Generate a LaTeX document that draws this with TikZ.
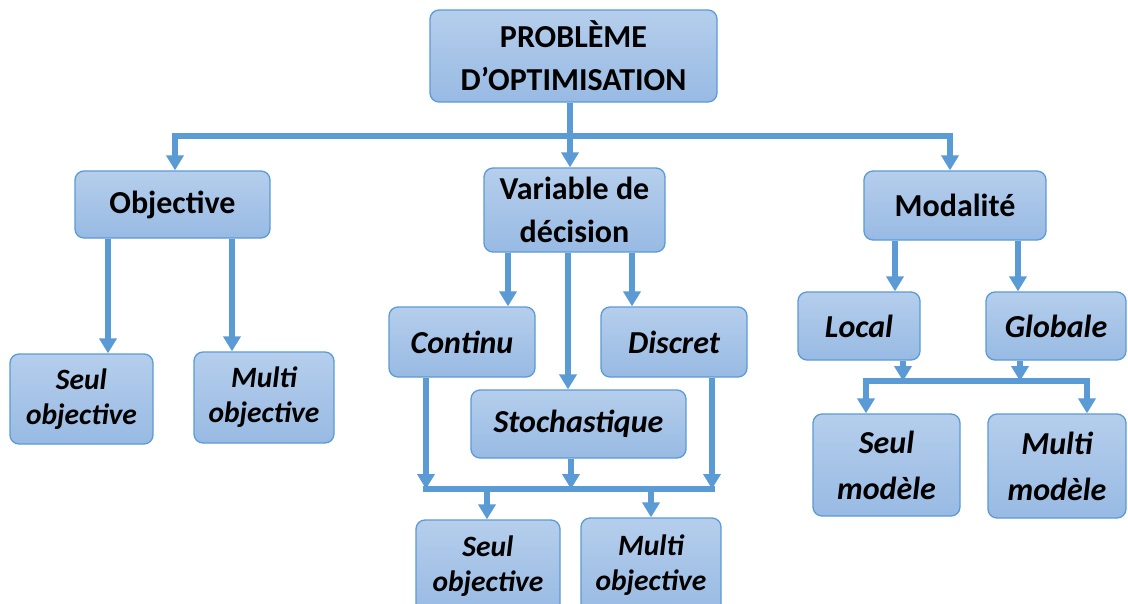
\documentclass[tikz,border=0pt]{standalone}
\usepackage{fontspec}
\setmainfont{Carlito}
\usetikzlibrary{arrows.meta}
\definecolor{acol}{HTML}{5B9BD5}
\definecolor{btop}{HTML}{B5CEEC}
\definecolor{bbot}{HTML}{98BAE3}
\tikzset{
  box/.style={draw=acol, line width=1.3pt, rounded corners=9pt, top color=btop, bottom color=bbot,
    align=center, inner sep=0pt, font=\bfseries\fontsize{32}{43}\selectfont},
  ibox/.style={box, font=\bfseries\itshape\fontsize{32}{35}\selectfont},
  obox/.style={box, font=\bfseries\itshape\fontsize{29.5}{35}\selectfont},
  mbox/.style={box, font=\bfseries\itshape\fontsize{32}{46}\selectfont},
  arr/.style={draw=acol, line width=5.5pt, -{Triangle[width=17pt,length=15pt]}},
  bar/.style={draw=acol, line width=5.5pt, line cap=rect},
}
\begin{document}
\begin{tikzpicture}[x=1pt,y=-1pt]
\useasboundingbox (0,0) rectangle (1128,603);
\fill[white] (0,0) rectangle (1128,603);
% nodes
\node[box, minimum width=287, minimum height=92] (top) at (573.5,56) {PROBLÈME\\D’OPTIMISATION};
\node[box, minimum width=195, minimum height=67] (obj) at (172.5,204.5) {Objective};
\node[box, minimum width=181, minimum height=84] (var) at (574.5,210) {Variable de\\décision};
\node[box, minimum width=182, minimum height=69] (mod) at (955,205.5) {Modalité};
\node[obox, minimum width=143, minimum height=90] (sob1) at (81.5,399) {Seul\\objective};
\node[obox, minimum width=140, minimum height=91] (mob1) at (264,397.5) {Multi\\objective};
\node[ibox, minimum width=146, minimum height=70] (cont) at (462,342) {Continu};
\node[ibox, minimum width=146, minimum height=70] (disc) at (674,342) {Discret};
\node[ibox, minimum width=215, minimum height=68] (stoch) at (578.5,424) {Stochastique};
\node[obox, minimum width=144, minimum height=93, yshift=-3pt] (sob2) at (488,563.5) {Seul\\objective};
\node[obox, minimum width=140, minimum height=95, yshift=-3pt] (mob2) at (651,562.5) {Multi\\objective};
\node[ibox, minimum width=122, minimum height=68] (loc) at (859,326) {Local};
\node[ibox, minimum width=140, minimum height=68] (glob) at (1056,326) {Globale};
\node[mbox, minimum width=147, minimum height=102] (smod) at (886.5,465) {Seul\\modèle};
\node[mbox, minimum width=138, minimum height=104] (mmod) at (1057,466) {Multi\\modèle};
% helper coordinates
\coordinate (c108) at (108,0);
\coordinate (c232) at (232,0);
\coordinate (c508) at (508,0);
\coordinate (c632) at (632,0);
\coordinate (c568) at (568,0);
\coordinate (c487) at (487,0);
\coordinate (c651) at (651,0);
\coordinate (c895) at (895,0);
\coordinate (c1018) at (1018,0);
% top level bus
\coordinate (b1) at (175,136);
\coordinate (b0) at (570,136);
\coordinate (b2) at (950,136);
\draw[bar] (b1) -- (b2);
\draw[arr] (top.south -| b0) -- (var.north -| b0);
\draw[arr] (b1) -- (obj.north -| b1);
\draw[arr] (b2) -- (mod.north -| b2);
% objective children
\draw[arr] (obj.south -| c108) -- (sob1.north -| c108);
\draw[arr] (obj.south -| c232) -- (mob1.north -| c232);
% variable children
\draw[arr] (var.south -| c508) -- (cont.north -| c508);
\draw[arr] (var.south -| c632) -- (disc.north -| c632);
\draw[arr] (var.south -| c568) -- (stoch.north -| c568);
% lower bus
\coordinate (l1) at (426,489);
\coordinate (l2) at (571,489);
\coordinate (l3) at (712,489);
\draw[bar] (l1) -- (l3);
\draw[arr] (cont.south -| l1) -- (l1);
\draw[arr] (stoch.south -| l2) -- (l2);
\draw[arr] (disc.south -| l3) -- (l3);
\draw[arr] (l1 -| c487) -- (sob2.north -| c487);
\draw[arr] (l1 -| c651) -- (mob2.north -| c651);
% modalite children
\draw[arr] (mod.south -| c895) -- (loc.north -| c895);
\draw[arr] (mod.south -| c1018) -- (glob.north -| c1018);
\coordinate (m1) at (903,381);
\coordinate (m2) at (1020,381);
\coordinate (m0) at (866,381);
\coordinate (m3) at (1087,381);
\draw[bar] (m0) -- (m3);
\draw[arr] (loc.south -| m1) -- (m1);
\draw[arr] (glob.south -| m2) -- (m2);
\draw[arr] (m0) -- (smod.north -| m0);
\draw[arr] (m3) -- (mmod.north -| m3);
\end{tikzpicture}
\end{document}
